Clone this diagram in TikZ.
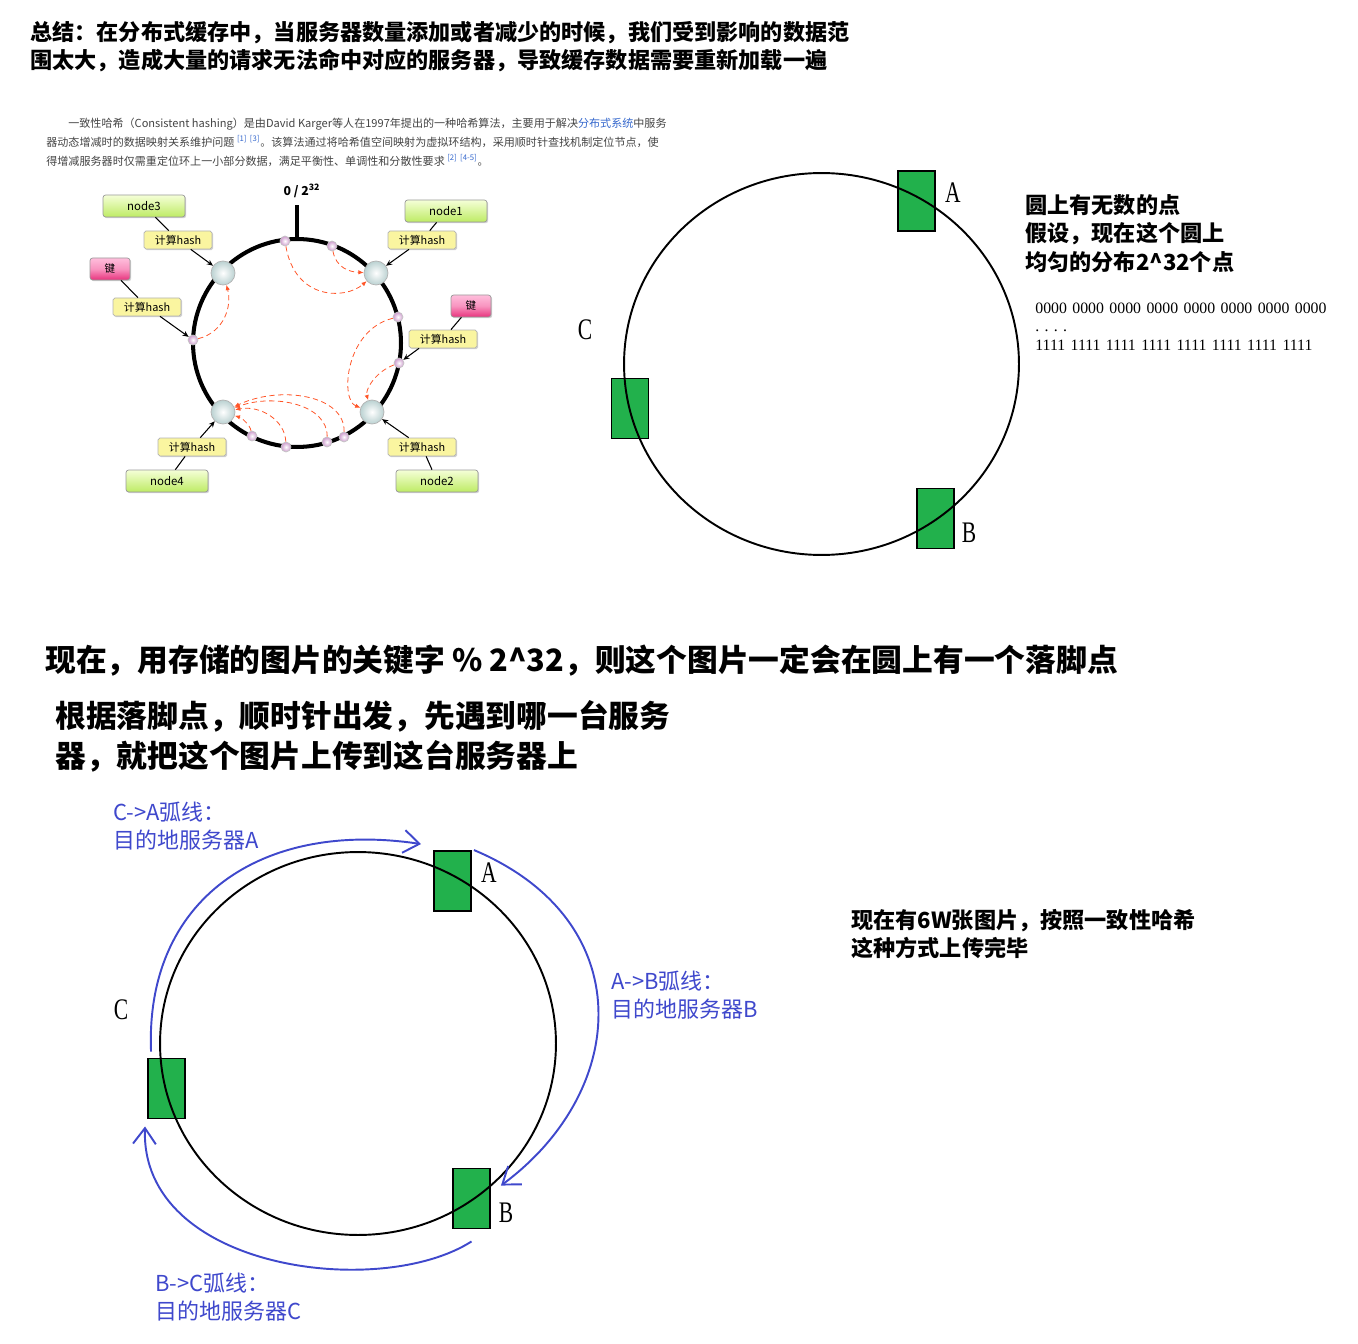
\documentclass[tikz,border=0pt]{standalone}
\usepackage{fontspec}
\setmainfont{Liberation Serif}
\newfontfamily\cjk{Noto Sans CJK SC}
\newfontfamily\narrowserif{Liberation Serif}[FakeStretch=0.72]
\usepackage{xcolor}
\definecolor{PaintGreen}{RGB}{34,177,76}
\definecolor{PaintBlue}{RGB}{63,72,204}
\definecolor{LinkBlue}{RGB}{51,102,204}
\definecolor{NoteGray}{RGB}{68,68,68}
\definecolor{HashYellow}{RGB}{250,245,160}
\definecolor{NodeTop}{RGB}{245,255,215}
\definecolor{NodeBottom}{RGB}{190,235,100}
\definecolor{KeyTop}{RGB}{255,190,220}
\definecolor{KeyBottom}{RGB}{232,50,125}
\definecolor{DashRed}{RGB}{255,85,40}
\usetikzlibrary{arrows.meta, calc, shadows, positioning}

\begin{document}
\begin{tikzpicture}[x=0.02cm, y=-0.02cm]
    \tikzset{
        server/.style={rectangle, draw=black, line width=1.1pt, fill=PaintGreen,
            minimum width=0.74cm, minimum height=1.2cm, inner sep=0pt},
        servername/.style={inner sep=0pt, font=\narrowserif\fontsize{17}{17}\selectfont},
        hashring/.style={line width=1.1pt},
        bluearc/.style={draw=PaintBlue, line width=1.1pt,
            -{Straight Barb[length=9pt, width=13pt]}},
        bluenote/.style={anchor=west, align=left, inner sep=0pt, text=PaintBlue,
            font=\cjk\fontsize{12.5}{15.9}\selectfont},
        note/.style={anchor=west, align=left, inner sep=0pt,
            font=\cjk\bfseries\fontsize{12.6}{16.2}\selectfont},
        bignote/.style={anchor=west, align=left, inner sep=0pt,
            font=\cjk\bfseries\fontsize{17.5}{22.7}\selectfont},
        ringnode/.style={circle, draw=gray!60, inner color=white,
            outer color=cyan!20!gray!45, minimum size=0.48cm, inner sep=0pt},
        hitdot/.style={circle, draw=gray!45, inner color=white,
            outer color=violet!40, minimum size=0.2cm, inner sep=0pt},
        hashbox/.style={rectangle, rounded corners=1pt, draw=black!30, fill=HashYellow,
            minimum width=1.36cm, minimum height=0.36cm, inner sep=0pt,
            font=\cjk\fontsize{6.2}{6.2}\selectfont,
            drop shadow={shadow xshift=0.7pt, shadow yshift=-0.7pt, fill=black!35}},
        nodebox/.style={rectangle, rounded corners=1.5pt, draw=black!40,
            top color=NodeTop, bottom color=NodeBottom,
            minimum width=1.64cm, minimum height=0.44cm, inner sep=0pt,
            font=\cjk\fontsize{6.5}{6.5}\selectfont,
            drop shadow={shadow xshift=0.7pt, shadow yshift=-0.7pt, fill=black!35}},
        keybox/.style={rectangle, rounded corners=1.5pt, draw=black!40,
            top color=KeyTop, bottom color=KeyBottom, middle color=KeyTop!70!KeyBottom,
            minimum width=0.8cm, minimum height=0.44cm, inner sep=0pt,
            font=\cjk\fontsize{6}{6}\selectfont,
            drop shadow={shadow xshift=0.7pt, shadow yshift=-0.7pt, fill=black!35}},
        hashlink/.style={draw=black, line width=0.6pt},
        hasharrow/.style={draw=black, line width=0.6pt, -{Stealth[length=3.5pt, width=3pt]}},
        redarrow/.style={draw=DashRed, densely dashed, line width=0.45pt,
            -{Latex[length=3pt, width=2.5pt]}}
    }
    \useasboundingbox (0,0) rectangle (1358,1344);

    \node[note] (summary) at (30,46.5)
        {总结：在分布式缓存中，当服务器数量添加或者减少的时候，我们受到影响的数据范\\围太大，造成大量的请求无法命中对应的服务器，导致缓存数据需要重新加载一遍};
    \node[anchor=west, align=left, inner sep=0pt, text=NoteGray,
        font=\cjk\fontsize{6.3}{10.8}\selectfont] (intro) at (46,142)
        {\hspace*{12.5pt}一致性哈希（Consistent hashing）是由David Karger等人在1997年提出的一种哈希算法，主要用于解决\textcolor{LinkBlue}{分布式系统}中服务\\器动态增减时的数据映射关系维护问题 \textcolor{LinkBlue}{\textsuperscript{[1]}\ \textsuperscript{[3]}}。该算法通过将哈希值空间映射为虚拟环结构，采用顺时针查找机制定位节点，使\\得增减服务器时仅需重定位环上一小部分数据，满足平衡性、单调性和分散性要求 \textcolor{LinkBlue}{\textsuperscript{[2]}\ \textsuperscript{[4-5]}}。};

    \draw[line width=2.3pt] (297,343) circle[radius=2.08cm];
    \coordinate (ringtop) at (297,241);
    \coordinate (ticktop) at (297,205);
    \draw[line width=2.3pt] (ringtop) -- (ticktop);
    \node[inner sep=0pt, font=\cjk\bfseries\fontsize{7}{7}\selectfont] (zero) at (302,191) {0 / 2\textsuperscript{32}};

    \node[ringnode] (r3) at (223,273) {};
    \node[ringnode] (r1) at (376,273) {};
    \node[ringnode] (r4) at (223,412) {};
    \node[ringnode] (r2) at (372,412) {};
    \node[hitdot] (d1) at (285,241) {};
    \node[hitdot] (d2) at (332,246) {};
    \node[hitdot] (d3) at (193,340) {};
    \node[hitdot] (d4) at (398,317) {};
    \node[hitdot] (d5) at (399,363) {};
    \node[hitdot] (d6) at (252,436) {};
    \node[hitdot] (d7) at (286,447) {};
    \node[hitdot] (d8) at (327,442) {};
    \node[hitdot] (d9) at (344,437) {};

    \node[nodebox] (node3) at (144,206) {node3};
    \node[nodebox] (node1) at (446,211) {node1};
    \node[nodebox] (node4) at (167,481) {node4};
    \node[nodebox] (node2) at (437,481) {node2};
    \node[keybox] (key3) at (110,269) {键};
    \node[keybox] (key1) at (471,306) {键};
    \node[hashbox] (h3) at (178,240) {计算hash};
    \node[hashbox] (h1) at (422,240) {计算hash};
    \node[hashbox] (hk3) at (147,307) {计算hash};
    \node[hashbox] (hk1) at (443,339) {计算hash};
    \node[hashbox] (h4) at (192,447) {计算hash};
    \node[hashbox] (h2) at (422,447) {计算hash};

    \draw[hashlink] (node3) -- (h3);
    \draw[hasharrow] (h3) -- (r3);
    \draw[hashlink] (node1) -- (h1);
    \draw[hasharrow] (h1) -- (r1);
    \draw[hashlink] (key3) -- (hk3);
    \draw[hasharrow] (hk3) -- (d3);
    \draw[hashlink] (key1) -- (hk1);
    \draw[hasharrow] ($(hk1.south)+(-24,0)$) -- (d5);
    \draw[hashlink] (node4) -- (h4);
    \draw[hasharrow] (h4) -- (r4);
    \draw[hashlink] (node2) -- (h2);
    \draw[hasharrow] (h2) -- (r2);

    \draw[redarrow] (d1) .. controls (295,300) and (345,300) .. (r1);
    \draw[redarrow] (d2) .. controls (336,268) and (350,272) .. (r1);
    \draw[redarrow] (d3) .. controls (225,332) and (232,305) .. (r3);
    \draw[redarrow] (d4) .. controls (345,330) and (340,400) .. (r2);
    \draw[redarrow] (d5) .. controls (375,372) and (365,390) .. (r2);
    \draw[redarrow] (d9) .. controls (345,395) and (280,385) .. (r4);
    \draw[redarrow] (d8) .. controls (328,405) and (275,393) .. (r4);
    \draw[redarrow] (d7) .. controls (285,420) and (260,405) .. (r4);
    \draw[redarrow] (d6) .. controls (250,425) and (242,418) .. (r4);

    \node[server] (sa) at (916.5,201) {};
    \node[server] (sc) at (630,408.5) {};
    \node[server] (sb) at (935.5,518.5) {};
    \draw[hashring] (821.5,364) ellipse [x radius=3.95cm, y radius=3.82cm];
    \node[servername] (la) at (953,193) {A};
    \node[servername] (lc) at (585,330) {C};
    \node[servername] (lb) at (969,533) {B};

    \node[note] (points) at (1025,233.5)
        {圆上有无数的点\\假设，现在这个圆上\\均匀的分布2\textasciicircum32个点};
    \node[anchor=west, align=left, inner sep=0pt, font=\fontsize{9}{10.5}\selectfont] (bits) at (1035,326.5)
        {\spaceskip=3.1pt\relax 0000 0000 0000 0000 0000 0000 0000 0000\\. . . .\\\spaceskip=3.1pt\relax 1111 1111 1111 1111 1111 1111 1111 1111};

    \node[bignote] (modulo) at (45,661)
        {现在，用存储的图片的关键字 \% 2\textasciicircum32，则这个图片一定会在圆上有一个落脚点};
    \node[bignote] (clockwise) at (55,736)
        {根据落脚点，顺时针出发，先遇到哪一台服务\\器，就把这个图片上传到这台服务器上};

    \node[server] (a2) at (452.5,881) {};
    \node[server] (c2) at (166.5,1088.5) {};
    \node[server] (b2) at (471.5,1198.5) {};
    \draw[hashring] (358,1043.5) ellipse [x radius=3.96cm, y radius=3.83cm];
    \node[servername] (la2) at (489,873) {A};
    \node[servername] (lc2) at (121,1010) {C};
    \node[servername] (lb2) at (506,1213) {B};

    \draw[bluearc] ($(c2.north west)+(4,-6)$) .. controls (145,900) and (260,820) .. ($(a2.north west)+(-12,-6)$);
    \draw[bluearc] ($(a2.north east)+(2,0)$) .. controls (640,920) and (630,1090) .. ($(b2.north east)+(10,18)$);
    \draw[bluearc] ($(b2.south)+(0,12)$) .. controls (380,1300) and (140,1270) .. ($(c2.south west)+(-2,7)$);

    \node[bluenote] (catext) at (113,826) {C->A弧线：\\目的地服务器A};
    \node[bluenote] (abtext) at (611,995) {A->B弧线：\\目的地服务器B};
    \node[bluenote] (bctext) at (155,1297) {B->C弧线：\\目的地服务器C};
    \node[note] (done) at (851,934)
        {现在有6W张图片，按照一致性哈希\\这种方式上传完毕};
\end{tikzpicture}
\end{document}
